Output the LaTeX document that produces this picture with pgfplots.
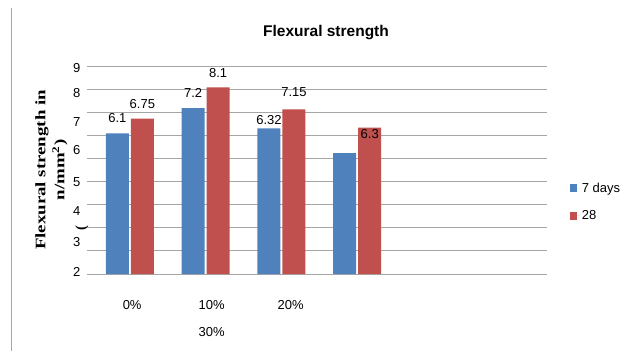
\documentclass[border=0pt]{standalone}
\usepackage{pgfplots}
\pgfplotsset{compat=1.18}
\usepackage{pgfplotstable}
\usepackage{graphicx}
\usepackage{fontspec}
\setmainfont{Liberation Sans}
\newfontfamily\timesfont{Liberation Serif}
\definecolor{xblue}{HTML}{4F81BD}
\definecolor{xred}{HTML}{C0504D}
\definecolor{gridc}{HTML}{A6A6A6}

\pgfplotstableread{
x y lab off
0 6.1 6.1 15
1 7.2 7.2 15
2 6.32 6.32 8.3
3 5.25 {} 0
}\sevendays
\pgfplotstableread{
x y lab off
0 6.75 6.75 15
1 8.1 8.1 14.4
2 7.15 7.15 17
3 6.35 6.3 -6.3
}\twentyeight

\begin{document}
\begin{tikzpicture}[x=1pt,y=1pt]
\useasboundingbox (0,0) rectangle (640,351);
\draw[gridc, line width=1pt] (11,0) -- (11,343);
\node[font=\bfseries\fontsize{15.5}{18}\selectfont] at (326,318) {Flexural strength};
\node[rotate=90, font=\timesfont\bfseries\fontsize{14.5}{17}\selectfont] at (42,181) {\scalebox{1.3}[1]{Flexural strength in}};
\node[rotate=90, font=\timesfont\bfseries\fontsize{14.5}{17}\selectfont] at (60,181) {\scalebox{1.3}[1]{n/mm\textsuperscript{2})}};
\node[rotate=90, font=\timesfont\bfseries\fontsize{14.5}{17}\selectfont] at (82,123) {(};
\begin{axis}[
  at={(92pt,77pt)}, anchor=south west,
  scale only axis, width=454.7pt, height=207.3pt,
  xmin=-0.5, xmax=5.5, ymin=0, ymax=9,
  ybar=2pt, bar width=23pt,
  axis line style={draw=none},
  tick pos=left,
  xtick={0.03,1.08,2.12},
  xticklabels={0\%,{10\%\\[11.4pt]30\%},20\%},
  xticklabel style={align=center, anchor=north, yshift=-18.7pt},
  xtick style={draw=none},
  ytick={8.93,7.85,6.61,5.38,4.01,2.75,1.40,0.10},
  yticklabels={9,8,7,6,5,4,3,2},
  ytick style={draw=none},
  yticklabel style={xshift=-8pt},
  extra y ticks={0,1,...,9},
  extra y tick labels={},
  extra y tick style={grid=major, ytick style={draw=gridc, line width=1pt}, tick align=outside, major tick length=5pt, major grid style={gridc, line width=1pt}},
  tick label style={font=\fontsize{13}{15.6}\selectfont},
  /pgf/number format/assume math mode=true,
  legend style={draw=none, fill=none, at={(1.044,0.348)}, anchor=west, font=\fontsize{13}{15.6}\selectfont, row sep=13pt},
  legend cell align=left,
  clip=false,
  point meta=explicit symbolic,
  nodes near coords,
  visualization depends on={\thisrow{off}\as\myoff},
  every node near coord/.append style={anchor=center, yshift=\myoff pt, font=\fontsize{13}{15.6}\selectfont, text=black},
]
\addplot[fill=xblue, draw=none, legend image code/.code={\fill[xblue] (0pt,-4pt) rectangle (7pt,4pt); \path (7pt,0pt) -- (10pt,0pt);}] table[x=x,y=y,meta=lab] {\sevendays};
\addlegendentry{7 days}
\addplot[fill=xred, draw=none, legend image code/.code={\fill[xred] (0pt,-4pt) rectangle (7pt,4pt); \path (7pt,0pt) -- (10pt,0pt);}] table[x=x,y=y,meta=lab] {\twentyeight};
\addlegendentry{28}
\end{axis}
\end{tikzpicture}
\end{document}
